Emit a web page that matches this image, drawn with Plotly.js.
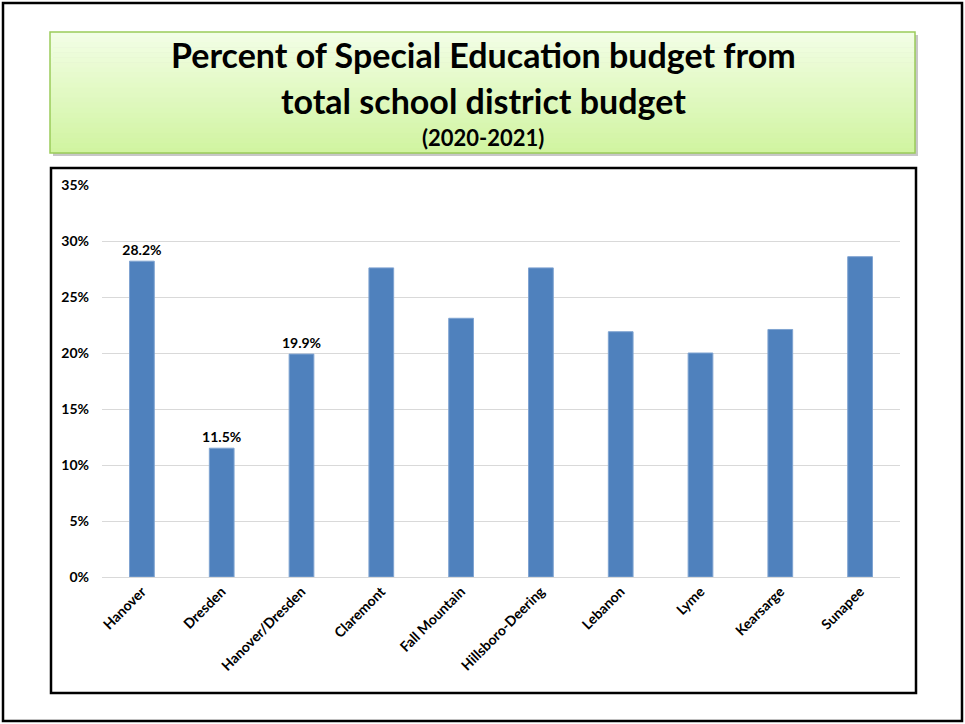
<!DOCTYPE html>
<html>
<head>
<meta charset="utf-8">
<script src="https://cdn.plot.ly/plotly-3.0.1.min.js"></script>
<style>html,body{margin:0;padding:0;background:#fff;}#chart{width:965px;height:724px;}</style>
</head>
<body>
<div id="chart"></div>
<script>
// ---- data ----
const districts = ["Hanover","Dresden","Hanover/Dresden","Claremont","Fall Mountain","Hillsboro-Deering","Lebanon","Lyme","Kearsarge","Sunapee"];
const percentSpecialEd = [28.2, 11.5, 19.9, 27.6, 23.1, 27.6, 21.9, 20.0, 22.1, 28.6];
const showLabel = [true, true, true, false, false, false, false, false, false, false];
const yTicks = [0, 5, 10, 15, 20, 25, 30, 35];
const titleLines = ["Percent of Special Education budget from", "total school district budget", "(2020-2021)"];

// ---- layout geometry (pixels) ----
const W = 965, H = 724;
const M = {l: 102, r: 65, t: 185, b: 147};
const PW = W - M.l - M.r, PH = H - M.t - M.b;
const px = x => (x - M.l) / PW;
const py = y => (H - M.b - y) / PH;

const FONT = "Lato";
const shapes = [];
// outer border
shapes.push({type:'rect', xref:'paper', yref:'paper', x0:px(3), x1:px(962), y0:py(3), y1:py(721), line:{color:'#000', width:2.5}, fillcolor:'rgba(0,0,0,0)', layer:'below'});
// title box shadow
shapes.push({type:'rect', xref:'paper', yref:'paper', x0:px(53), x1:px(918), y0:py(35), y1:py(156), line:{width:0}, fillcolor:'rgba(0,0,0,0.22)', layer:'below'});
// title box gradient strips
const gradTop = [243, 254, 230], gradBot = [208, 244, 160];
const N = 24, tY0 = 32, tY1 = 153;
for (let i = 0; i < N; i++) {
  const f = (i + 0.5) / N;
  const c = gradTop.map((v, k) => Math.round(v + (gradBot[k] - v) * f));
  const ya = tY0 + (tY1 - tY0) * i / N, yb = tY0 + (tY1 - tY0) * (i + 1) / N + 0.6;
  shapes.push({type:'rect', xref:'paper', yref:'paper', x0:px(50), x1:px(915), y0:py(ya), y1:py(Math.min(yb, tY1)), line:{width:0}, fillcolor:`rgb(${c[0]},${c[1]},${c[2]})`, layer:'below'});
}
shapes.push({type:'rect', xref:'paper', yref:'paper', x0:px(50), x1:px(915), y0:py(32), y1:py(153), line:{color:'#9bcb5a', width:1.5}, fillcolor:'rgba(0,0,0,0)', layer:'below'});
// inner chart box
shapes.push({type:'rect', xref:'paper', yref:'paper', x0:px(51), x1:px(916), y0:py(168), y1:py(693), line:{color:'#000', width:2.5}, fillcolor:'rgba(0,0,0,0)', layer:'below'});

const annotations = [
  {text:'<b>' + titleLines[0] + '</b>', x:px(483), y:py(55), font:{size:34}},
  {text:'<b>' + titleLines[1] + '</b>', x:px(483), y:py(100), font:{size:34}},
  {text:'<b>' + titleLines[2] + '</b>', x:px(483), y:py(138), font:{size:22}}
].map(a => Object.assign({xref:'paper', yref:'paper', xanchor:'center', yanchor:'middle', showarrow:false}, a, {font:Object.assign({family:FONT, color:'#000'}, a.font)}));

const trace = {
  type: 'bar',
  x: districts,
  y: percentSpecialEd,
  marker: {color: '#4f81bd', line: {color: '#7fa3d1', width: 1}},
  text: percentSpecialEd.map((v, i) => showLabel[i] ? v.toFixed(1) + '%' : ''),
  textposition: 'outside',
  constraintext: 'none',
  cliponaxis: false,
  textfont: {family: FONT, size: 14, color: '#000', weight: 700},
  hoverinfo: 'x+y'
};

const layout = {
  width: W, height: H,
  margin: M,
  paper_bgcolor: 'rgba(0,0,0,0)',
  plot_bgcolor: 'rgba(0,0,0,0)',
  showlegend: false,
  bargap: 0.69,
  font: {family: FONT, color: '#000'},
  xaxis: {
    type: 'category',
    tickangle: -45,
    tickfont: {family: FONT, size: 14, weight: 700, color: '#000'},
    showgrid: false, zeroline: false,
    showline: true, linecolor: '#d9d9d9', linewidth: 1,
    ticks: '', fixedrange: true
  },
  yaxis: {
    range: [0, 35],
    tickvals: yTicks,
    ticktext: yTicks.map(v => v + '%'),
    tickfont: {family: FONT, size: 14, weight: 700, color: '#000'},
    showgrid: true, gridcolor: '#d9d9d9', gridwidth: 1,
    zeroline: false, showline: false, ticks: '',
    ticklabelstandoff: 12, fixedrange: true
  },
  shapes: shapes,
  annotations: annotations
};

Plotly.newPlot('chart', [trace], layout, {displayModeBar: false, staticPlot: true});
</script>
</body>
</html>
